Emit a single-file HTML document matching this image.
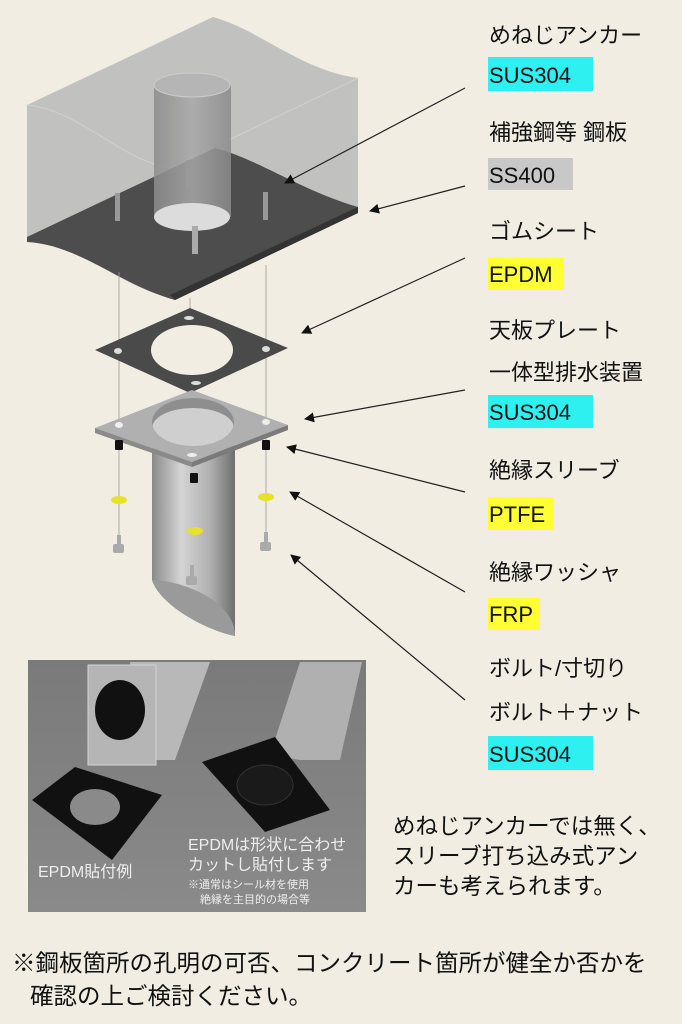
<!DOCTYPE html>
<html><head><meta charset="utf-8"><style>
body{margin:0;background:#f1ede3;}
svg{display:block;}
text{font-family:"Liberation Sans","Noto Sans CJK JP",sans-serif;}
</style></head><body>
<svg width="682" height="1024" viewBox="0 0 682 1024" xmlns="http://www.w3.org/2000/svg">
<defs>
<linearGradient id="pipe" x1="0" x2="1"><stop offset="0" stop-color="#8a8a8a"/><stop offset="0.35" stop-color="#d4d4d4"/><stop offset="0.7" stop-color="#b0b0b0"/><stop offset="1" stop-color="#6e6e6e"/></linearGradient>
<linearGradient id="cyl" x1="0" x2="1"><stop offset="0" stop-color="#8c8c8c"/><stop offset="0.5" stop-color="#a8a8a8"/><stop offset="1" stop-color="#8a8a8a"/></linearGradient>
<marker id="ah" markerWidth="10" markerHeight="10" refX="9" refY="5" orient="auto" markerUnits="userSpaceOnUse"><path d="M0,0 L10,5 L0,10 z" fill="#111"/></marker>
<linearGradient id="photo" x1="0" y1="0" x2="0" y2="1"><stop offset="0" stop-color="#7a7a7a"/><stop offset="1" stop-color="#8a8a8a"/></linearGradient>
</defs>
<rect width="682" height="1024" fill="#f1ede3"/>

<path d="M27,105 L213,17 C260,30 300,70 358,78 L358,210 L175,298 C120,290 80,240 27,242 Z" fill="#b9b9b9" opacity="0.85"/>
<path d="M27,105 C80,110 120,160 170,168 L358,78" fill="none" stroke="#d0d0d0" stroke-width="1"/>
<path d="M27,237 L215,148 C260,160 300,190 358,207 L358,213 L175,300 C120,285 80,245 27,242 Z" fill="#4d4d4d"/>
<path d="M358,207 L358,213 L175,300 L170,295 Z" fill="#333"/>
<rect x="154" y="85" width="77" height="132" fill="url(#cyl)" opacity="0.85"/>
<ellipse cx="192" cy="85" rx="38" ry="12" fill="#b5b5b5" stroke="#ccc"/>
<ellipse cx="192" cy="217" rx="38" ry="14" fill="#dcdcdc"/>
<rect x="115" y="193" width="5" height="28" fill="#999"/>
<rect x="186" y="160" width="5" height="28" fill="#999"/>
<rect x="263" y="192" width="5" height="28" fill="#999"/>
<rect x="192" y="226" width="6" height="28" fill="#aaa"/>

<g stroke="#999" stroke-width="0.8">
<line x1="119" y1="272" x2="119" y2="550"/>
<line x1="190" y1="298" x2="190" y2="585"/>
<line x1="266" y1="265" x2="266" y2="550"/>
</g>

<path d="M190,308 L288,348 L190,393 L95,350 Z" fill="#4a4a4a"/>
<ellipse cx="192" cy="350" rx="41" ry="25" fill="#f1ede3"/>
<g fill="#ddd"><ellipse cx="118" cy="351" rx="4" ry="3"/><ellipse cx="266" cy="349" rx="4" ry="3"/><ellipse cx="189" cy="318" rx="5" ry="2"/><ellipse cx="196" cy="383" rx="5" ry="2"/></g>

<path d="M152,440 L235,440 L235,636 C205,630 160,605 152,580 Z" fill="url(#pipe)"/>
<path d="M152,580 C180,580 235,600 235,636 C205,630 160,605 152,580 Z" fill="#9a9a9a"/>
<path d="M95,428 L192,390 L288,425 L192,462 Z" fill="#b0b0b0"/>
<path d="M95,428 L192,462 L192,467 L95,433 Z" fill="#8a8a8a"/>
<path d="M192,462 L288,425 L288,430 L192,467 Z" fill="#7a7a7a"/>
<ellipse cx="193" cy="422" rx="41" ry="24" fill="#cfcfcf"/>
<path d="M152,422 A41,24 0 0 1 234,422 L234,428 A41,20 0 0 0 152,428 Z" fill="#8e8e8e"/>
<g fill="#eee"><ellipse cx="119" cy="425" rx="4" ry="3"/><ellipse cx="266" cy="422" rx="4" ry="3"/><ellipse cx="192" cy="455" rx="5" ry="2"/></g>

<g fill="#111"><rect x="115" y="440" width="8" height="10" rx="1"/><rect x="262" y="440" width="8" height="10" rx="1"/><rect x="190" y="473" width="8" height="10" rx="1"/></g>
<g fill="#e6e12a"><ellipse cx="119" cy="500" rx="8" ry="4"/><ellipse cx="266" cy="497" rx="8" ry="4"/><ellipse cx="195" cy="531" rx="8" ry="4"/></g>
<g fill="#aaa"><rect x="117" y="535" width="4" height="10"/><rect x="113" y="544" width="11" height="9" rx="2"/>
<rect x="264" y="532" width="4" height="10"/><rect x="260" y="542" width="11" height="9" rx="2"/>
<rect x="190" y="565" width="4" height="12"/><rect x="186" y="576" width="11" height="9" rx="2"/></g>

<g stroke="#222" stroke-width="1.2" marker-end="url(#ah)">
<line x1="465" y1="88" x2="285" y2="183"/>
<line x1="465" y1="186" x2="370" y2="211"/>
<line x1="465" y1="258" x2="302" y2="333"/>
<line x1="465" y1="390" x2="305" y2="419"/>
<line x1="465" y1="492" x2="287" y2="447"/>
<line x1="465" y1="592" x2="290" y2="492"/>
<line x1="465" y1="700" x2="291" y2="555"/>
</g>

<rect x="488" y="57" width="105" height="34" fill="#2ef0f0"/>
<rect x="488" y="158" width="85" height="32" fill="#c8c8c8"/>
<rect x="488" y="258" width="76" height="32" fill="#ffff33"/>
<rect x="488" y="395" width="105" height="33" fill="#2ef0f0"/>
<rect x="488" y="497" width="66" height="33" fill="#ffff33"/>
<rect x="488" y="598" width="52" height="32" fill="#ffff33"/>
<rect x="488" y="736" width="105" height="34" fill="#2ef0f0"/>
<g font-size="22" fill="#111">
<text x="489" y="43">めねじアンカー</text>
<text x="489" y="83">SUS304</text>
<text x="489" y="140">補強鋼等 鋼板</text>
<text x="489" y="183">SS400</text>
<text x="489" y="239">ゴムシート</text>
<text x="489" y="282">EPDM</text>
<text x="489" y="338">天板プレート</text>
<text x="489" y="380">一体型排水装置</text>
<text x="489" y="420">SUS304</text>
<text x="489" y="478">絶縁スリーブ</text>
<text x="489" y="522">PTFE</text>
<text x="489" y="580">絶縁ワッシャ</text>
<text x="489" y="622">FRP</text>
<text x="489" y="676">ボルト/寸切り</text>
<text x="489" y="720">ボルト＋ナット</text>
<text x="489" y="762">SUS304</text>
</g>
<g font-size="22.5" fill="#111">
<text x="393" y="834">めねじアンカーでは無く、</text>
<text x="393" y="864">スリーブ打ち込み式アン</text>
<text x="393" y="894">カーも考えられます。</text>
</g>
<g font-size="23.5" fill="#111">
<text x="12" y="971">※鋼板箇所の孔明の可否、コンクリート箇所が健全か否かを</text>
<text x="30" y="1004">確認の上ご検討ください。</text>
</g>

<rect x="28" y="660" width="338" height="252" fill="url(#photo)"/>
<path d="M130,662 L210,662 L175,760 L140,760 Z" fill="#b8b8b8"/>
<rect x="88" y="665" width="68" height="100" fill="#b5b5b5" stroke="#d5d5d5"/>
<ellipse cx="120" cy="710" rx="25" ry="30" fill="#111"/>
<path d="M300,662 L362,662 L340,760 L300,760 L270,755 Z" fill="#b0b0b0"/>
<path d="M202,762 L275,737 L330,810 L265,832 Z" fill="#111"/>
<ellipse cx="265" cy="785" rx="28" ry="20" fill="#1a1a1a" stroke="#333"/>
<path d="M32,800 L75,767 L162,795 L112,860 Z" fill="#111"/>
<ellipse cx="95" cy="807" rx="25" ry="18" fill="#8a8a8a"/>
<g fill="#eee" font-size="16">
<text x="38" y="877">EPDM貼付例</text>
<text x="188" y="850">EPDMは形状に合わせ</text>
<text x="188" y="870">カットし貼付します</text>
</g>
<g fill="#eee" font-size="11">
<text x="188" y="888">※通常はシール材を使用</text>
<text x="200" y="903">絶縁を主目的の場合等</text>
</g>
</svg>
</body></html>
